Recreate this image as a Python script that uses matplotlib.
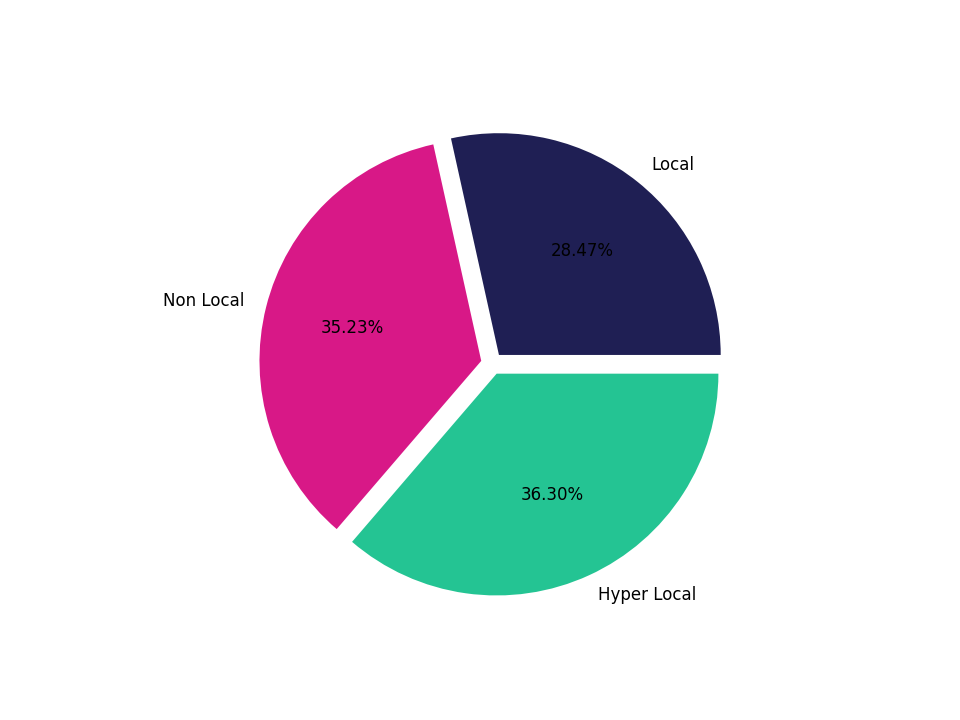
import matplotlib
matplotlib.use("Agg")
import matplotlib.pyplot as plt

labels = ["Local", "Non Local", "Hyper Local"]
values = [28.47, 35.23, 36.30]
colors = ["#1f1f54", "#d81887", "#24c493"]
explode = [0.05, 0.05, 0.05]

fig, ax = plt.subplots(figsize=(9.6, 7.2), dpi=100)
ax.pie(values, labels=labels, colors=colors, explode=explode, autopct="%1.2f%%",
       textprops={"fontsize": 12})
fig.savefig("out.png", dpi=100)
